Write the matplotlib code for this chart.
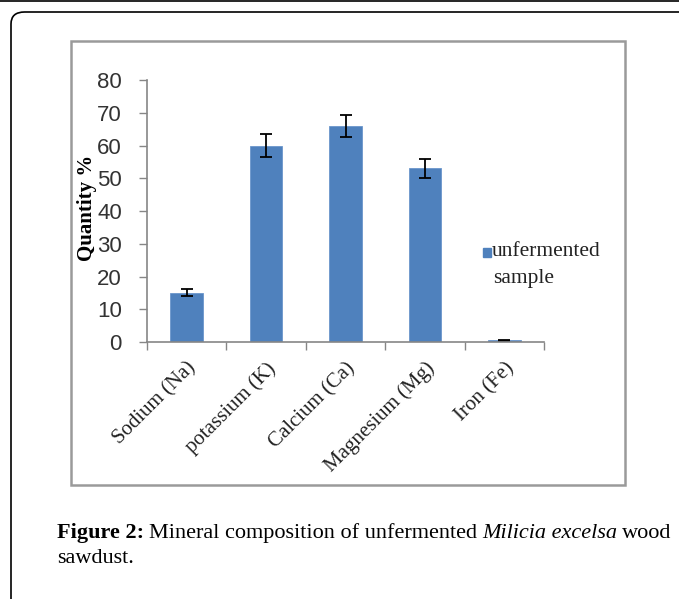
import matplotlib
matplotlib.use("Agg")
import matplotlib.pyplot as plt
from matplotlib.patches import Rectangle, FancyBboxPatch
from matplotlib.lines import Line2D
import numpy as np

# mineral composition of unfermented sawdust (%)
minerals = ["Sodium (Na)", "potassium (K)", "Calcium (Ca)", "Magnesium (Mg)", "Iron (Fe)"]
quantity = [15.0, 60.0, 66.0, 53.0, 0.5]
error = [1.1, 3.4, 3.4, 2.8, 0.2]
y_ticks = [0, 10, 20, 30, 40, 50, 60, 70, 80]

W, H = 679, 599


def fx(px):
    return px / W


def fy(py):
    return 1 - py / H


fig = plt.figure(figsize=(W / 100, H / 100), dpi=100, facecolor="white")

# page decorations: top rule, rounded outer box, grey chart frame
fig.add_artist(Line2D([0, 1], [fy(1), fy(1)], color="black", lw=1.2))
fig.add_artist(FancyBboxPatch((fx(11), fy(700)), fx(800), fy(12) - fy(700),
                              boxstyle="round,pad=0,rounding_size=0.02",
                              transform=fig.transFigure, fill=False,
                              edgecolor="black", lw=1.2))
fig.add_artist(Rectangle((fx(71), fy(485)), fx(625) - fx(71), fy(41) - fy(485),
                         transform=fig.transFigure, fill=False,
                         edgecolor="#9a9a9a", lw=1.8))

ax = fig.add_axes([fx(147), fy(342), fx(544) - fx(147), fy(80) - fy(342)])
x = np.arange(len(minerals))
ax.bar(x, quantity, width=0.41, color="#4F81BD", edgecolor="#6b96cc", lw=0.6)
ax.errorbar(x, quantity, yerr=error, fmt="none", ecolor="black",
            elinewidth=1.3, capsize=4.5, capthick=1.3)

ax.set_xlim(-0.5, len(minerals) - 0.5)
ax.set_ylim(0, 80)
ax.set_yticks(y_ticks)
ax.set_yticklabels([str(v) for v in y_ticks], family="Liberation Sans",
                   fontsize=16, color="#333333")
ax.set_xticks(x)
ax.set_xticklabels(minerals, rotation=45, ha="right", rotation_mode="anchor",
                   family="Liberation Serif", fontsize=15, color="#222222")
ax.set_xticks(np.arange(-0.5, len(minerals)), minor=True)
ax.tick_params(axis="x", which="major", length=0, pad=12)
ax.tick_params(axis="x", which="minor", length=6, color="#868686", width=1)
ax.tick_params(axis="y", length=6, color="#868686", width=1, pad=12)

for s in ["top", "right"]:
    ax.spines[s].set_visible(False)
for s in ["left", "bottom"]:
    ax.spines[s].set_color("#868686")
    ax.spines[s].set_linewidth(1.2)

fig.text(fx(87), fy(208), "Quantity %", rotation=90, ha="center", va="center",
         family="Liberation Serif", fontweight="bold", fontsize=15)

# legend
fig.add_artist(Rectangle((fx(483), fy(257)), fx(8), fy(248) - fy(257),
                         transform=fig.transFigure, color="#4F81BD"))
fig.text(fx(492), fy(252), "unfermented", ha="left", va="center",
         family="Liberation Serif", fontsize=15.5, color="#222222")
fig.text(fx(493), fy(279), "sample", ha="left", va="center",
         family="Liberation Serif", fontsize=15.5, color="#222222")

# caption
cap_y = fy(538)
t = fig.text(fx(57), cap_y, "Figure 2:", ha="left", va="baseline",
             family="Liberation Serif", fontweight="bold", fontsize=16)
fig.canvas.draw()
r = fig.canvas.get_renderer()
bb = t.get_window_extent(r)
t2 = fig.text(bb.x1 / W + fx(5), cap_y, "Mineral composition of unfermented ",
              ha="left", va="baseline", family="Liberation Serif", fontsize=16)
bb2 = t2.get_window_extent(r)
t3 = fig.text(bb2.x1 / W, cap_y, "Milicia excelsa", ha="left", va="baseline",
              family="Liberation Serif", style="italic", fontsize=16)
bb3 = t3.get_window_extent(r)
fig.text(bb3.x1 / W + fx(4), cap_y, "wood", ha="left", va="baseline",
         family="Liberation Serif", fontsize=16)
fig.text(fx(57), fy(563), "sawdust.", ha="left", va="baseline",
         family="Liberation Serif", fontsize=16)

fig.savefig("out.png", dpi=100)
